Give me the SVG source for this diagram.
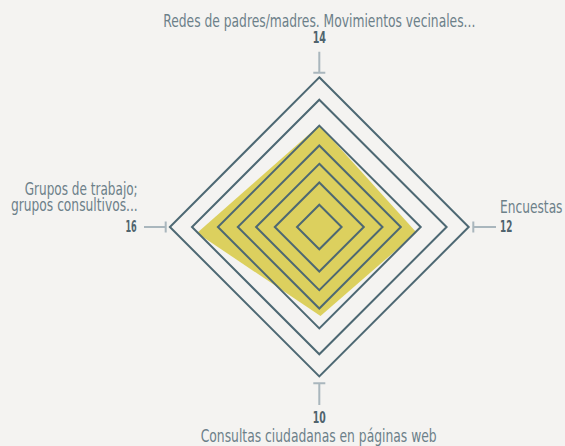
<svg xmlns="http://www.w3.org/2000/svg" width="565" height="446" viewBox="0 0 565 446">
<style>
.grid{fill:none;stroke:#4d6873;stroke-width:2;stroke-linejoin:miter}
.tick{fill:none;stroke:#a9b6bd;stroke-width:2}
.lbl{font-family:"Liberation Sans Narrow","DejaVu Sans Condensed","Roboto",sans-serif;font-size:17.5px;fill:#6c8089}
.num{font-family:"Liberation Sans Narrow","DejaVu Sans Condensed","Roboto",sans-serif;font-size:16.5px;font-weight:bold;fill:#4f636d}
</style>
<rect width="565" height="446" fill="#f4f3f1"/>
<g id="area">
<polygon points="319.3,125.3 416.5,232.5 320.5,316 197,233" fill="#dcd05e"/>
</g>
<g id="grid">
<polygon class="grid" points="319.3,77.3 468.7,227 319.3,376.4 169.9,227"/>
<polygon class="grid" points="319.3,99.7 446.6,227 319.3,354.3 192,227"/>
<polygon class="grid" points="319.3,125.6 420.7,227 319.3,328.4 217.9,227"/>
<polygon class="grid" points="319.3,145.5 400.8,227 319.3,308.5 237.8,227"/>
<polygon class="grid" points="319.3,163.8 382.5,227 319.3,290.2 256.1,227"/>
<polygon class="grid" points="319.3,182.5 363.8,227 319.3,271.5 274.8,227"/>
<polygon class="grid" points="319.3,204.7 341.6,227 319.3,249.3 297,227"/>
</g>
<g id="connectors">
<path class="tick" d="M319.3,51.7V72.7M313.3,72.7H325.3"/>
<path class="tick" d="M496,227H473.3M473.3,221.5V232.5"/>
<path class="tick" d="M319.3,405V383.3M313.3,383.3H325.3"/>
<path class="tick" d="M144,227H165.7M165.7,221.5V232.5"/>
</g>
<g id="node-top">
<text class="lbl" x="319.3" y="26.7" text-anchor="middle" textLength="312" lengthAdjust="spacingAndGlyphs">Redes de padres/madres. Movimientos vecinales...</text>
<text class="num" x="319.3" y="43.3" text-anchor="middle" textLength="13.3" lengthAdjust="spacingAndGlyphs">14</text>
</g>
<g id="node-right">
<text class="lbl" x="500" y="213.3" textLength="62.5" lengthAdjust="spacingAndGlyphs">Encuestas</text>
<text class="num" x="500" y="232.3" textLength="12.3" lengthAdjust="spacingAndGlyphs">12</text>
</g>
<g id="node-bottom">
<text class="num" x="319.3" y="423.3" text-anchor="middle" textLength="13" lengthAdjust="spacingAndGlyphs">10</text>
<text class="lbl" x="318.7" y="441.7" text-anchor="middle" textLength="236" lengthAdjust="spacingAndGlyphs">Consultas ciudadanas en páginas web</text>
</g>
<g id="node-left">
<text class="lbl" x="137.7" y="195" text-anchor="end" textLength="113" lengthAdjust="spacingAndGlyphs">Grupos de trabajo;</text>
<text class="lbl" x="137.7" y="210.7" text-anchor="end" textLength="126.7" lengthAdjust="spacingAndGlyphs">grupos consultivos...</text>
<text class="num" x="136.7" y="232.3" text-anchor="end" textLength="11.3" lengthAdjust="spacingAndGlyphs">16</text>
</g>
</svg>
